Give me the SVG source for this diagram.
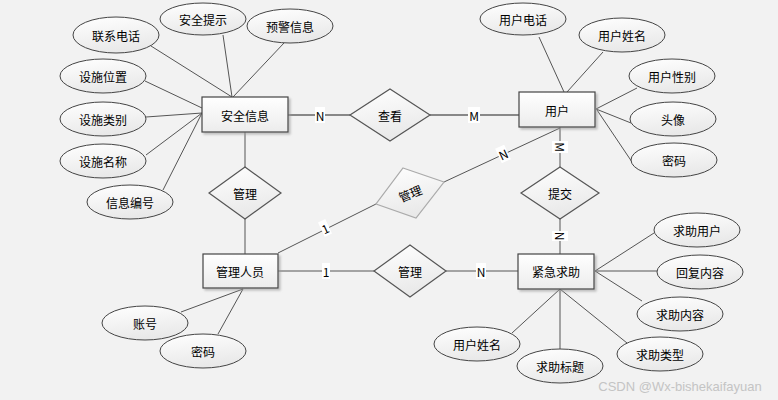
<svg xmlns="http://www.w3.org/2000/svg" width="778" height="400" viewBox="0 0 778 400">
<defs>
<linearGradient id="gE" x1="0" y1="0" x2="0.3" y2="1"><stop offset="0" stop-color="#ffffff"/><stop offset="1" stop-color="#e9e9e9"/></linearGradient>
<linearGradient id="gR" x1="0" y1="0" x2="0" y2="1"><stop offset="0" stop-color="#ffffff"/><stop offset="1" stop-color="#ececec"/></linearGradient>
<filter id="sh" x="-10%" y="-10%" width="130%" height="140%"><feDropShadow dx="2" dy="2" stdDeviation="1" flood-color="#999" flood-opacity="0.6"/></filter>
<style>
text{font-family:"Noto Sans CJK SC","Microsoft YaHei",sans-serif;font-size:12px;fill:#000;text-anchor:middle;dominant-baseline:central}
.e{fill:url(#gE);stroke:#444;stroke-width:1}
.r{fill:url(#gR);stroke:#444;stroke-width:1.2;filter:url(#sh)}
.d{fill:url(#gE);stroke:#555;stroke-width:1.2}
.l{stroke:#555;stroke-width:1;fill:none}
.t{stroke:#888;stroke-width:2;fill:none}
.lb{fill:#fff}
.c{font-family:"Liberation Sans",Arial,sans-serif;font-size:13px}
</style>
</defs>
<rect width="778" height="400" fill="#f2f2f2"/>
<g id="connectors">
<line class="l" x1="151" y1="46" x2="232" y2="97"/>
<line class="l" x1="223" y1="35" x2="232" y2="97"/>
<line class="l" x1="284" y1="43" x2="233" y2="97"/>
<line class="l" x1="145" y1="81" x2="202" y2="108"/>
<line class="l" x1="146" y1="117" x2="202" y2="113"/>
<line class="l" x1="146" y1="155" x2="202" y2="113"/>
<line class="l" x1="163" y1="190" x2="202" y2="113"/>
<line class="l" x1="245" y1="132" x2="245" y2="167"/>
<line class="l" x1="245" y1="219" x2="245" y2="254"/>
<line class="t" x1="288" y1="115" x2="350" y2="115"/>
<line class="t" x1="430" y1="115" x2="519" y2="115"/>
<line class="l" x1="539" y1="37" x2="564" y2="92"/>
<line class="l" x1="603" y1="52" x2="567" y2="92"/>
<line class="l" x1="637" y1="88" x2="596" y2="109"/>
<line class="l" x1="631" y1="123" x2="596" y2="109"/>
<line class="l" x1="632" y1="162" x2="597" y2="110"/>
<line class="l" x1="560" y1="127" x2="560" y2="167"/>
<line class="l" x1="560" y1="219" x2="560" y2="254"/>
<line class="l" x1="278" y1="253" x2="376" y2="204"/>
<line class="l" x1="444" y1="182" x2="560" y2="128"/>
<line class="l" x1="278" y1="271" x2="374" y2="271"/>
<line class="l" x1="446" y1="271" x2="518" y2="271"/>
<line class="l" x1="654" y1="233" x2="595" y2="271"/>
<line class="l" x1="657" y1="271" x2="595" y2="271"/>
<line class="l" x1="642" y1="301" x2="595" y2="271"/>
<line class="l" x1="560" y1="289" x2="627" y2="343"/>
<line class="l" x1="560" y1="289" x2="560" y2="349"/>
<line class="l" x1="560" y1="289" x2="512" y2="333"/>
<line class="l" x1="181" y1="312" x2="243" y2="289"/>
<line class="l" x1="218" y1="334" x2="243" y2="289"/>
<rect class="lb" x="315" y="107" width="10" height="16"/><text x="320" y="115">N</text>
<rect class="lb" x="468" y="107" width="12" height="16"/><text x="474" y="115">M</text>
<g transform="translate(560,147) rotate(90)"><rect class="lb" x="-6" y="-8" width="12" height="16"/><text x="0" y="0">M</text></g>
<g transform="translate(560,236) rotate(90)"><rect class="lb" x="-5" y="-8" width="10" height="16"/><text x="0" y="0">N</text></g>
<g transform="translate(503,154) rotate(-25)"><rect class="lb" x="-5" y="-8" width="10" height="16"/><text x="0" y="0">N</text></g>
<g transform="translate(325,228) rotate(-25)"><rect class="lb" x="-4" y="-8" width="8" height="16"/><text x="0" y="0">1</text></g>
<rect class="lb" x="322" y="263" width="8" height="16"/><text x="326" y="271">1</text>
<rect class="lb" x="476" y="263" width="10" height="16"/><text x="481" y="271">N</text>
</g>
<g id="e_anquanxinxi"><rect class="r" x="202" y="97" width="86" height="35"/><text x="245" y="115">安全信息</text></g>
<g id="e_yonghu"><rect class="r" x="519" y="92" width="76" height="35"/><text x="557" y="110">用户</text></g>
<g id="e_guanlirenyuan"><rect class="r" x="203" y="254" width="75" height="34"/><text x="240" y="271">管理人员</text></g>
<g id="e_jinjiqiuzhu"><rect class="r" x="518" y="254" width="76" height="35"/><text x="556" y="271">紧急求助</text></g>
<g id="r_chakan"><polygon class="d" points="390,89 430,115 390,141 350,115"/><text x="390" y="115">查看</text></g>
<g id="r_guanli1"><polygon class="d" points="245,167 281,193 245,219 209,193"/><text x="245" y="193">管理</text></g>
<g id="r_guanli2"><polygon class="d" style="stroke:#aaa" points="403,168 444,182 416,218 376,204"/><text transform="translate(410,193) rotate(-22)">管理</text></g>
<g id="r_guanli3"><polygon class="d" points="410,245 446,271 410,297 374,271"/><text x="410" y="271">管理</text></g>
<g id="r_tijiao"><polygon class="d" points="560,167 599,193 560,219 521,193"/><text x="560" y="193">提交</text></g>
<g id="a_lianxidianhua"><ellipse class="e" cx="116" cy="35" rx="43" ry="18"/><text x="116" y="35">联系电话</text></g>
<g id="a_anquantishi"><ellipse class="e" cx="203" cy="19" rx="43" ry="16"/><text x="203" y="19">安全提示</text></g>
<g id="a_yujingxinxi"><ellipse class="e" cx="290" cy="26" rx="43" ry="17"/><text x="290" y="26">预警信息</text></g>
<g id="a_sheshiweizhi"><ellipse class="e" cx="103" cy="76" rx="43" ry="17"/><text x="103" y="76">设施位置</text></g>
<g id="a_sheshileibie"><ellipse class="e" cx="103" cy="119" rx="43" ry="17"/><text x="103" y="119">设施类别</text></g>
<g id="a_sheshimingcheng"><ellipse class="e" cx="103" cy="161" rx="43" ry="17"/><text x="103" y="161">设施名称</text></g>
<g id="a_xinxibianhao"><ellipse class="e" cx="130" cy="202" rx="43" ry="17"/><text x="130" y="202">信息编号</text></g>
<g id="a_yonghudianhua"><ellipse class="e" cx="523" cy="19" rx="43" ry="16"/><text x="523" y="19">用户电话</text></g>
<g id="a_yonghuxingming"><ellipse class="e" cx="622" cy="35" rx="43" ry="17"/><text x="622" y="35">用户姓名</text></g>
<g id="a_yonghuxingbie"><ellipse class="e" cx="672" cy="76" rx="43" ry="17"/><text x="672" y="76">用户性别</text></g>
<g id="a_touxiang"><ellipse class="e" cx="673" cy="119" rx="43" ry="17"/><text x="673" y="119">头像</text></g>
<g id="a_mima1"><ellipse class="e" cx="674" cy="160" rx="43" ry="17"/><text x="674" y="160">密码</text></g>
<g id="a_qiuzhuyonghu"><ellipse class="e" cx="697" cy="230" rx="43" ry="17"/><text x="697" y="230">求助用户</text></g>
<g id="a_huifuneirong"><ellipse class="e" cx="700" cy="272" rx="43" ry="17"/><text x="700" y="272">回复内容</text></g>
<g id="a_qiuzhuneirong"><ellipse class="e" cx="680" cy="314" rx="43" ry="17"/><text x="680" y="314">求助内容</text></g>
<g id="a_qiuzhuleixing"><ellipse class="e" cx="660" cy="354" rx="43" ry="17"/><text x="660" y="354">求助类型</text></g>
<g id="a_qiuzhubiaoti"><ellipse class="e" cx="560" cy="366" rx="43" ry="17"/><text x="560" y="366">求助标题</text></g>
<g id="a_yonghuxingming2"><ellipse class="e" cx="477" cy="344" rx="43" ry="17"/><text x="477" y="344">用户姓名</text></g>
<g id="a_zhanghao"><ellipse class="e" cx="145" cy="323" rx="43" ry="17"/><text x="145" y="323">账号</text></g>
<g id="a_mima2"><ellipse class="e" cx="203" cy="351" rx="43" ry="17"/><text x="203" y="351">密码</text></g>
<text class="c" x="680" y="386" style="fill:#c4c4c4">CSDN @Wx-bishekaifayuan</text>
</svg>
